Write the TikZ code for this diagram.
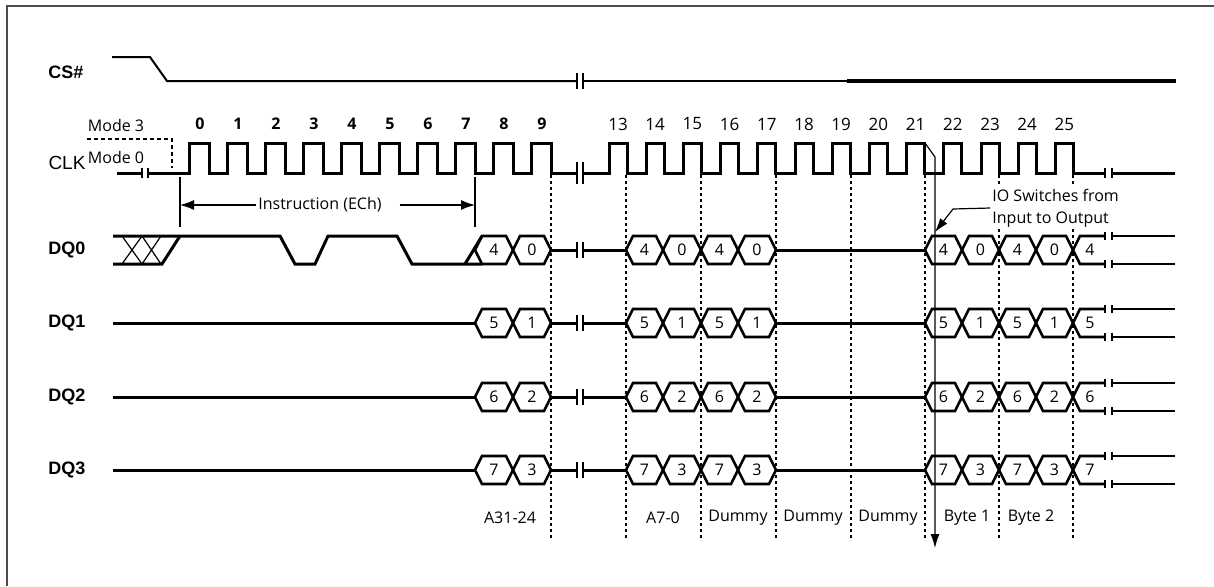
\documentclass[tikz,border=0pt]{standalone}
\usepackage{fontspec}
\setmainfont{Open Sans}
\newfontfamily\signalfont{Liberation Sans}
\usetikzlibrary{arrows.meta}

% one data cell: left x, right x, y, value
\newcommand{\hexcell}[4]{%
  \draw[hexline] (#1,#3) -- (#1+7,#3-14) -- (#2-7,#3-14) -- (#2,#3)
    -- (#2-7,#3+14) -- (#1+7,#3+14) -- cycle;
  \node[bitval] (bit#1x#3) at ({(#1+#2)/2},#3) {#4};}
% break marks: x1, x2, y, half length
\newcommand{\sigbreak}[4]{%
  \draw[breaktick] (#1,#3-#4) -- (#1,#3+#4) (#2,#3-#4) -- (#2,#3+#4);}

\begin{document}
\begin{tikzpicture}[x=0.5pt,y=-0.5pt]

%
% Styles
%
\tikzstyle{signal}    = [line width=1.5pt]
\tikzstyle{thinsig}   = [line width=1pt]
\tikzstyle{heavysig}  = [line width=2.2pt]
\tikzstyle{hexline}   = [line width=1.3pt]
\tikzstyle{xline}     = [line width=0.6pt]
\tikzstyle{breaktick} = [line width=0.8pt]
\tikzstyle{gridline}  = [line width=0.8pt,dash pattern=on 1.5pt off 1.5pt]
\tikzstyle{modeline}  = [line width=1pt,dash pattern=on 2pt off 1.5pt]
\tikzstyle{marker}    = [line width=0.6pt]
\tikzstyle{dimarrow}  = [line width=0.6pt,-{Latex[length=7pt,width=5pt]}]
\tikzstyle{frameline} = [line width=1pt,draw=black!70]
\tikzstyle{signame}   = [font=\signalfont\fontsize{9}{10}\selectfont\bfseries]
\tikzstyle{ann}       = [font=\fontsize{8}{9.6}\selectfont,inner sep=1pt]
\tikzstyle{clkbold}   = [font=\fontsize{8}{9.6}\selectfont\bfseries]
\tikzstyle{clknum}    = [font=\fontsize{8.5}{10}\selectfont]
\tikzstyle{bitval}    = [font=\fontsize{8}{9.6}\selectfont,inner sep=0pt]

\useasboundingbox (0,0) rectangle (1214,586);
\draw[frameline] (7,586) -- (7,6) -- (1214,6);

% signal names
\node[signame] (cs) at (66,72) {CS\#};
\node[signame,font=\signalfont\fontsize{9.5}{11}\selectfont] (clk) at (67,163) {CLK};
\foreach \n/\y in {0/250,1/323,2/397,3/470}
  \node[signame] (dq\n) at (67,\y) {DQ\n};

% CS#
\draw[thinsig] (112,57) -- (150,57) -- (167,81) -- (577,81);
\sigbreak{577}{583}{81}{8}
\draw[thinsig] (583,81) -- (847,81);
\draw[heavysig] (847,81) -- (1176,81);

% CLK
\node[ann] (mode3) at (116,125) {Mode 3};
\node[ann] (mode0) at (116,157) {Mode 0};
\draw[modeline] (87,139) -- (172,139) -- (172,168);
\draw[signal] (117,173) -- (142,173);
\sigbreak{142}{148}{173}{5}
\draw[signal] (148,173) \foreach \k in {0,...,9} {
    -- ({189+38*\k},173) -- ({189+38*\k},143) -- ({209+38*\k},143) -- ({209+38*\k},173) }
  -- (577,173);
\sigbreak{577}{583}{173}{11}
\draw[signal] (583,173) \foreach \n in {13,...,25} {
    -- ({609+37.2*(\n-13)},173) -- ({609+37.2*(\n-13)},143)
    -- ({627+37.2*(\n-13)},143) -- ({627+37.2*(\n-13)},173) }
  -- (1105,173);
\sigbreak{1105}{1112}{173}{5}
\draw[signal] (1112,173) -- (1175,173);

\foreach \k in {0,...,9}
  \node[clkbold] (num\k) at ({200+38*\k},124) {\k};
\foreach \n in {13,...,25}
  \node[clknum] (num\n) at ({618+37.2*(\n-13)},124) {\n};

% clock edges
\foreach \x in {551,626,701,776,851,925,999,1073}
  \draw[gridline] (\x,175) -- (\x,538);

% instruction span
\draw[marker] (180,177) -- (180,227);
\draw[marker] (475,177) -- (475,227);
\node[ann] (instr) at (320,205) {Instruction (ECh)};
\coordinate (instrL) at (180,205);
\coordinate (instrR) at (475,205);
\draw[dimarrow] (instr.west) -- (instrL);
\draw[dimarrow] ([xshift=8pt]instr.east) -- (instrR);

% DQ0 instruction bits
\draw[signal] (113,236) -- (280,236) -- (295,264) -- (315,264) -- (328,236)
  -- (397,236) -- (412,264) -- (482,264);
\draw[signal] (113,264) -- (162,264) -- (180,236);
\draw[signal] (465,264) -- (482,236);
\draw[xline] (122,236) -- (142,264) (122,264) -- (142,236)
  (142,236) -- (161,264) (142,264) -- (161,236);
\foreach \y in {323,397,470}
  \draw[signal] (113,\y) -- (475,\y);

% address, dummy and data cells
\foreach \n/\y in {0/250,1/323,2/397,3/470} {
  \pgfmathtruncatemacro{\h}{\n+4}
  \hexcell{475}{513}{\y}{\h}
  \hexcell{513}{551}{\y}{\n}
  \draw[signal] (551,\y) -- (577,\y);
  \sigbreak{577}{583}{\y}{8}
  \draw[signal] (583,\y) -- (626,\y);
  \hexcell{626}{663}{\y}{\h}
  \hexcell{663}{701}{\y}{\n}
  \hexcell{701}{738}{\y}{\h}
  \hexcell{738}{776}{\y}{\n}
  \draw[signal] (776,\y) -- (925,\y);
  \hexcell{925}{962}{\y}{\h}
  \hexcell{962}{999}{\y}{\n}
  \hexcell{999}{1036}{\y}{\h}
  \hexcell{1036}{1073}{\y}{\n}
  \draw[hexline] (1105,\y-14) -- (1080,\y-14) -- (1073,\y) -- (1080,\y+14) -- (1105,\y+14);
  \node[bitval] (bitend\n) at (1090,\y) {\h};
  \sigbreak{1105}{1112}{\y-14}{4}
  \sigbreak{1105}{1112}{\y+14}{4}
  \draw[hexline] (1112,\y-14) -- (1175,\y-14) (1112,\y+14) -- (1175,\y+14);
}

% bus turnaround
\node[ann,font=\fontsize{8}{11}\selectfont,align=left,anchor=west,fill=white] (io) at (990,208)
  {IO Switches from\\Input to Output};
\coordinate (iobend) at (953,209);
\coordinate (iotip) at (935,232);
\draw[marker,-{Latex[length=7pt,width=4.5pt]}] (io.west) -- (iobend) -- (iotip);
\coordinate (swtop) at (925,143);
\coordinate (swknee) at (935,157);
\coordinate (swend) at (935,548);
\draw[marker,-{Latex[length=7pt,width=4.5pt]}] (swtop) -- (swknee) -- (swend);

% phases
\node[ann] (addrhi) at (510,518) {A31-24};
\node[ann] (addrlo) at (663,518) {A7-0};
\foreach \x/\i in {738/1,813/2,888/3}
  \node[ann] (dummy\i) at (\x,518) {Dummy};
\node[ann] (byte1) at (967,518) {Byte 1};
\node[ann] (byte2) at (1031,518) {Byte 2};

\end{tikzpicture}
\end{document}
